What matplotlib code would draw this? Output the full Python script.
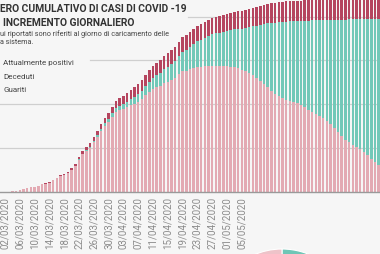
import numpy as np
import pandas as pd
import matplotlib
matplotlib.use("Agg")
import matplotlib.pyplot as plt

# daily cumulative values, 24/02/2020 -> 11/06/2020
dates = pd.date_range("2020-02-24", "2020-06-11")

positivi = [3, 3, 5, 9, 12, 14, 18, 20,
            40, 90, 140, 205, 290, 400, 515, 625, 740, 855,
            960, 1062, 1334, 1539, 1801, 1938, 2132, 2497, 2964,
            3682, 4298, 4685, 5062, 5666, 6259, 6954, 7535, 8003, 8584,
            9154, 9371, 9462, 9667, 9872, 10066, 10282, 10602, 11035, 11446,
            11742, 11924, 12107, 12403, 12586, 12768, 12973, 13406, 13783, 13817,
            13965, 14113, 14261, 14296, 14330, 14364, 14398, 14375, 14353, 14330,
            14307, 14284, 14261, 14182, 13931, 13794, 13543, 13292, 13042, 12677,
            12312, 11947, 11525, 11218, 10910, 10716, 10539, 10397, 10243, 10089,
            9930, 9661, 9393, 9063, 8852, 8630, 8425, 8088, 7763, 7319,
            6868, 6429, 5980, 5643, 5312, 5085, 4862, 4526, 4189, 3739,
            3397, 3055]

guariti = [0] * 27 + [
    34, 57, 80, 114, 148, 182, 228, 274, 319, 365,
    422, 479, 547, 616, 684, 764, 844, 935, 1026, 1140,
    1254, 1368, 1482, 1596, 1710, 1824, 1938, 2052, 2223, 2394,
    2565, 2736, 2907, 3078, 3249, 3420, 3591, 3705, 3819, 3933,
    4047, 4161, 4275, 4389, 4674, 4902, 5244, 5586, 5928, 6384,
    6840, 7296, 7752, 8094, 8436, 8664, 8892, 9063, 9234, 9405,
    9576, 9861, 10146, 10488, 10716, 10944, 11172, 11514, 11856, 12312,
    12768, 13224, 13680, 14022, 14364, 14592, 14820, 15162, 15504, 15960,
    16302, 16644]

deceduti = [0] * 18 + [
    11, 23, 34, 57, 80, 114, 148, 182, 228,
    274, 319, 365, 410, 456, 513, 570, 627, 684, 741,
    798, 866, 935, 1003, 1072, 1140, 1186, 1231, 1277, 1322,
    1368, 1414, 1459, 1505, 1550, 1596, 1619, 1642, 1664, 1687,
    1710, 1733, 1756, 1778, 1801, 1824, 1847, 1870, 1892, 1915,
    1938, 1961, 1984, 2006, 2029, 2052, 2075, 2098, 2120, 2143,
    2166, 2189, 2212, 2234, 2257, 2280, 2286, 2291, 2297, 2303,
    2314, 2320, 2326, 2337, 2343, 2348, 2348, 2354, 2360, 2371,
    2377, 2383, 2388, 2394, 2394, 2405, 2411, 2417, 2423, 2428,
    2440, 2451]

legend_labels = ["Attualmente positivi", "Deceduti", "Guariti"]

bg = "#f6f6f6"
c_pos = "#e3aab3"
c_gua = "#72c8b8"
c_dec = "#b5455f"

fig = plt.figure(figsize=(3.8, 2.55), dpi=100, facecolor=bg)
ax = fig.add_axes([0, 62 / 255, 1, 193 / 255])
ax.set_facecolor(bg)

x = np.arange(len(dates))
pos = np.array(positivi)
gua = np.array(guariti)
dec = np.array(deceduti)

ax.bar(x, pos, width=0.7, color=c_pos, zorder=2)
ax.bar(x, gua, width=0.7, bottom=pos, color=c_gua, zorder=2)
ax.bar(x, dec, width=0.7, bottom=pos + gua, color=c_dec, zorder=2)

ax.set_xlim(5.65, 108.35)
ax.set_ylim(0, 22000)

# gridlines, partly hidden behind the text blocks
ax.axhline(5000, color="#cfcfcf", lw=0.9, zorder=1)
ax.axhline(10000, color="#cfcfcf", lw=0.9, zorder=1)
ax.axhline(15000, xmin=90 / 380, color="#cfcfcf", lw=0.9, zorder=1)
ax.axhline(20000, xmin=188 / 380, color="#cfcfcf", lw=0.9, zorder=1)

for s in ["top", "left", "right"]:
    ax.spines[s].set_visible(False)
ax.spines["bottom"].set_color("#9a9a9a")
ax.spines["bottom"].set_linewidth(1)
ax.set_yticks([])

ticks = np.arange(7, 72, 4)
ax.set_xticks(ticks)
ax.set_xticklabels([dates[i].strftime("%d/%m/%Y") for i in ticks],
                   rotation=90, fontsize=7, color="#8c8c8c", family="Roboto")
ax.tick_params(axis="x", length=0, pad=3)

# title and note
fig.text(0, 1 - 9 / 255, "ERO CUMULATIVO DI CASI DI COVID -19", fontsize=7.4,
         fontweight="bold", color="#333333", family="Roboto", va="center")
fig.text(3 / 380, 1 - 23 / 255, "INCREMENTO GIORNALIERO", fontsize=7.4,
         fontweight="bold", color="#333333", family="Roboto", va="center")
fig.text(0, 1 - 34 / 255, "ui riportati sono riferiti al giorno di caricamento delle",
         fontsize=5.2, color="#444444", family="Roboto", va="center")
fig.text(0, 1 - 43 / 255, "a sistema.", fontsize=5.2, color="#444444",
         family="Roboto", va="center")

for lbl, yy in zip(legend_labels, [63, 77, 90]):
    fig.text(3 / 380, 1 - yy / 255, lbl, fontsize=5.8, color="#444444",
             family="Roboto", va="center")

# pie peeking in at the bottom
pax = fig.add_axes([212 / 380, -135 / 255, 140 / 380, 140 / 255])
pax.pie([gua[-1], dec[-1], pos[-1]], colors=["#6fc6b6", c_dec, "#eec3c9"],
        startangle=90, counterclock=False,
        wedgeprops={"linewidth": 0.8, "edgecolor": "white"})
pax.set_xlim(-1, 1)
pax.set_ylim(-1, 1)
pax.axis("off")

fig.savefig("out.png", dpi=100, facecolor=bg)
